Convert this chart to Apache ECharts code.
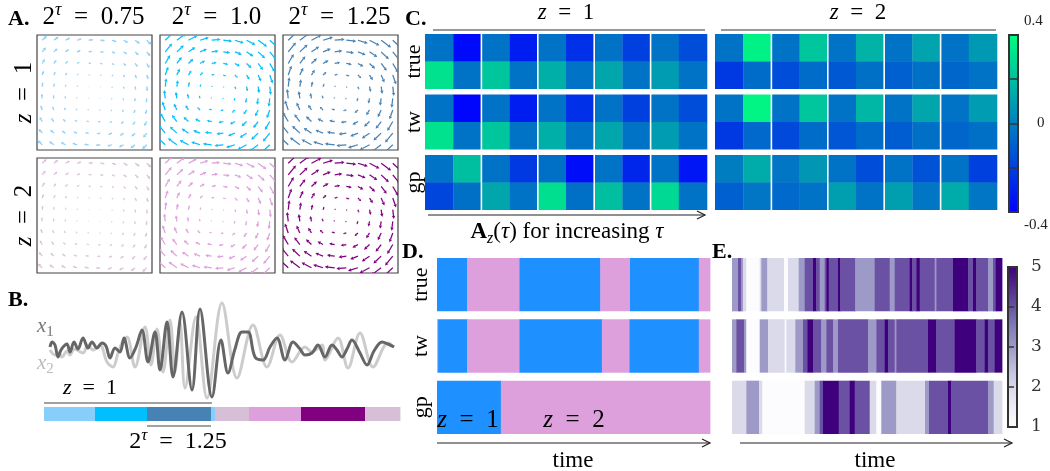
<!DOCTYPE html>
<html><head><meta charset="utf-8">
<script src="https://cdn.jsdelivr.net/npm/echarts@6/dist/echarts.min.js"></script>
<style>html,body{margin:0;padding:0;background:#fff}#c{width:1050px;height:471px}</style>
</head><body><div id="c"></div>
<script>
// ================= DATA =================
// Panel A: quiver grids
const quiverTicks = [-1, -0.7778, -0.5556, -0.3333, -0.1111, 0.1111, 0.3333, 0.5556, 0.7778, 1];
const quiverTauLabels = ['0.75', '1.0', '1.25'];
const quiverZLabels = ['1', '2'];
const quiverColors = ['#87CEFA', '#00BFFF', '#4682B4', '#D8BFD8', '#DDA0DD', '#800080'];
// linear dynamics matrix per panel (row z=1 then z=2; columns 2^tau = 0.75, 1.0, 1.25)
const quiverMatrices = [
  [[0.0, 0.09], [-0.085, 0.0]],
  [[0.0, 0.17], [-0.16, 0.0]],
  [[0.0, 0.19], [-0.18, 0.0]],
  [[0.0, 0.085], [-0.08, 0.0]],
  [[0.0, 0.16], [-0.15, 0.0]],
  [[0.0, 0.19], [-0.18, 0.0]]
];

// Panel B: time series [t, value]
const x1Series = [[0,0],[2,5],[5,2],[8,-10],[11,-3],[14,1],[17,3],[20,-5],[24,5],[28,-2],[33,9],[38,-1],[42,5],[47,-1],[52,4],[56,1],[60,-11],[65,-1],[70,-5],[74,9],[80,-11],[86,0],[92,17],[98,-15],[105,15],[110,-23],[117,25],[123,-30],[132,35],[142,-43],[150,38],[162,-50],[171,7],[178,-26],[185,-2],[192,15],[198,15],[205,-10],[213,-13],[220,0],[227,9],[235,-13],[243,5],[250,-2],[255,-8],[262,-6],[268,2],[275,-10],[282,2],[287,-3],[292,-10],[297,-2],[302,7],[310,-6],[317,-18],[324,-4],[332,5],[338,3],[344,0]];
const x2Series = [[0,-3],[5,-8],[9,-6],[12,-10],[17,-4],[20,-8],[24,-2],[27,-3],[33,-6],[38,2],[43,-3],[50,2],[57,-15],[63,-20],[68,-6],[72,4],[77,10],[85,-20],[95,20],[101,-18],[107,18],[113,-25],[120,27],[125,-25],[130,25],[135,-41],[146,30],[157,-51],[172,44],[187,-31],[203,22],[217,-20],[230,12],[242,-15],[255,0],[262,-5],[272,2],[275,-13],[288,9],[298,-21],[310,14],[323,-20],[338,4],[344,0]];
const bSeriesNames = ['1', '2'];
// [start, end, colour index]
const bSegments = [[0,51,0],[51,103,1],[103,167,2],[167,171,0],[171,205,3],[205,257,4],[257,321,5],[321,356,3]];
const bSegmentColors = ['#87CEFA', '#00BFFF', '#4682B4', '#D8BFD8', '#DDA0DD', '#800080'];

// Panel C: A_z(tau) matrices, 2 rows x 10 columns per method
const cRowLabels = ['true', 'tw', 'gp'];
const cZTitles = ['1', '2'];
const cTrueZ1 = [[-0.04,-0.37,-0.04,-0.31,-0.04,-0.25,-0.04,-0.2,-0.04,-0.16],[0.31,-0.04,0.22,-0.04,0.15,-0.04,0.12,-0.04,0.09,-0.04]];
const cTwZ1   = [[-0.04,-0.38,-0.04,-0.31,-0.04,-0.25,-0.04,-0.2,-0.04,-0.16],[0.31,-0.04,0.22,-0.04,0.15,-0.04,0.12,-0.04,0.09,-0.04]];
const cGpZ1   = [[-0.04,0.2,-0.04,-0.22,-0.05,-0.36,-0.04,-0.28,-0.04,-0.33],[-0.18,-0.05,0.12,-0.04,0.3,-0.05,0.2,-0.04,0.28,-0.04]];
const cTrueZ2 = [[-0.04,0.36,-0.04,0.22,-0.04,0.16,-0.04,0.11,-0.04,0.08],[-0.22,-0.06,-0.16,-0.06,-0.12,-0.05,-0.1,-0.05,-0.08,-0.04]];
const cTwZ2   = [[-0.04,0.37,-0.04,0.22,-0.04,0.17,-0.04,0.12,-0.04,0.09],[-0.22,-0.07,-0.17,-0.06,-0.13,-0.06,-0.11,-0.05,-0.08,-0.05]];
const cGpZ2   = [[-0.01,0.14,-0.03,0.07,-0.04,-0.16,-0.04,-0.14,-0.04,-0.2],[-0.1,-0.03,-0.07,-0.04,0.1,-0.04,0.1,-0.03,0.14,-0.03]];
const cScale = [-0.4, 0.4];
const cTickLabels = ['-0.4', '0', '0.4'];

// Panel D: segmentation [start, end, z index] (0 -> z=1, 1 -> z=2)
const dTrue = [[0,11,0],[11,30.2,1],[30.2,59.8,0],[59.8,70.7,1],[70.7,95.9,0],[95.9,100,1]];
const dTw   = [[0,0.4,1],[0.4,11,0],[11,30.2,1],[30.2,60.4,0],[60.4,70.5,1],[70.5,95.9,0],[95.9,100,1]];
const dGp   = [[0,23.4,0],[23.4,100,1]];
const dColors = ['#1E90FF', '#DDA0DD'];

// Panel E: warp level [start, end, level 1..5]
const eTrue = [[0,6,3],[6,9.3,4],[9.3,11,3],[11,14.3,2],[14.3,27.7,1],[27.7,29.3,2],[29.3,35.3,3],[35.3,52,2],[52,56,1],[56,66.7,2],[66.7,72.7,3],[72.7,81,4],[81,84.3,5],[84.3,87.7,4],[87.7,92.7,3],[92.7,94.3,4],[94.3,96.7,5],[96.7,106,4],[106,108.3,5],[108.3,123.3,4],[123.3,142.7,3],[142.7,157.7,4],[157.7,162.7,3],[162.7,177.7,4],[177.7,180.3,5],[180.3,184.3,4],[184.3,187.7,5],[187.7,202.7,4],[202.7,204.3,3],[204.3,221,4],[221,236,5],[236,241,4],[241,244.3,5],[244.3,256,4],[256,261,3],[261,263.7,4],[263.7,270,5]];
const eTw = [[0,4.3,3],[4.3,12,4],[12,14.3,3],[14.3,27.7,1],[27.7,36,3],[36,52.7,2],[52.7,54.3,1],[54.3,63.3,2],[63.3,71,3],[71,75.3,4],[75.3,81,5],[81,89.3,4],[89.3,94.3,3],[94.3,101,4],[101,106,3],[106,136,4],[136,144.3,3],[144.3,152.7,4],[152.7,156,5],[156,162.7,4],[162.7,164.3,3],[164.3,196,4],[196,204.3,5],[204.3,222.7,4],[222.7,244.3,5],[244.3,252.7,4],[252.7,256,5],[256,262.7,4],[262.7,270,5]];
const eGp = [[0,14.3,2],[14.3,27,3],[27,30.3,2],[30.3,72.7,1],[72.7,82.7,2],[82.7,87.7,3],[87.7,91,4],[91,106.7,5],[106.7,117.7,4],[117.7,122.7,5],[122.7,137.7,4],[137.7,144.3,2],[144.3,149.3,1],[149.3,164.3,3],[164.3,193,2],[193,197,3],[197,216,4],[216,219.3,5],[219.3,256,4],[256,261.7,3],[261.7,270,2]];
const eLevels = [1, 2, 3, 4, 5];
const purples = ['#fcfbfd','#efedf5','#dadaeb','#bcbddc','#9e9ac8','#807dba','#6a51a3','#54278f','#3f007d'];
const winter = ['#0000ff', '#00ff80'];

// ================= CHART =================
const SERIF = '"Liberation Serif","DejaVu Serif",serif';
const DJS = '"DejaVu Serif",serif';
const chart = echarts.init(document.getElementById('c'), null, {renderer: 'canvas'});
const grids = [], xAxes = [], yAxes = [], series = [], graphics = [];
function addGrid(g, xa, ya) {
  grids.push(Object.assign({show: false, containLabel: false, outerBoundsMode: 'none'}, g));
  const i = grids.length - 1;
  xAxes.push(Object.assign({gridIndex: i, type: 'value', show: false}, xa));
  yAxes.push(Object.assign({gridIndex: i, type: 'value', show: false}, ya));
  return i;
}
function rich(size, color) {
  color = color || '#000';
  return {
    n: {fontFamily: SERIF, fontSize: size, lineHeight: size + 6, fill: color},
    it: {fontFamily: SERIF, fontStyle: 'italic', fontSize: size, lineHeight: size + 6, fill: color},
    b: {fontFamily: SERIF, fontWeight: 'bold', fontSize: size, lineHeight: size + 6, fill: color},
    sup: {fontFamily: SERIF, fontStyle: 'italic', fontSize: Math.round(size * 0.7), lineHeight: Math.round(size * 0.45), verticalAlign: 'top', fill: color},
    sub: {fontFamily: SERIF, fontStyle: 'italic', fontSize: Math.round(size * 0.7), lineHeight: Math.round(size * 0.6), verticalAlign: 'bottom', fill: color},
    subn: {fontFamily: SERIF, fontSize: Math.round(size * 0.7), lineHeight: Math.round(size * 0.6), verticalAlign: 'bottom', fill: color}
  };
}
function text(x, y, t, size, opts) {
  opts = opts || {};
  graphics.push({type: 'text', x: x, y: y, rotation: opts.rot || 0, z: 100,
    style: {text: t, align: opts.align || 'center', verticalAlign: 'middle', rich: rich(size, opts.color), fill: opts.color || '#000',
      font: (opts.bold ? 'bold ' : '') + size + 'px ' + SERIF}});
}
function hline(x1, x2, y, color, w) {
  graphics.push({type: 'line', z: 100, shape: {x1: x1, y1: y, x2: x2, y2: y}, style: {stroke: color || '#333', lineWidth: w || 1}});
}
function arrow(x1, x2, y) {
  hline(x1, x2, y, '#222', 1.2);
  graphics.push({type: 'polyline', z: 100, shape: {points: [[x2 - 8, y - 4], [x2, y], [x2 - 8, y + 4]]}, style: {stroke: '#222', lineWidth: 1.2, fill: null}});
}

// ---- Panel A
const qLefts = [37, 160, 283], qTops = [35, 158], qSize = 115;
const quiverData = [];
quiverTicks.forEach(function (tx) { quiverTicks.forEach(function (ty) { quiverData.push([tx, ty]); }); });
function quiverRender(M, color) {
  return function (params, api) {
    const x = api.value(0), y = api.value(1);
    const u = M[0][0] * x + M[0][1] * y, v = M[1][0] * x + M[1][1] * y;
    const p0 = api.coord([x, y]), p1 = api.coord([x + u, y + v]);
    const dx = p1[0] - p0[0], dy = p1[1] - p0[1];
    const L = Math.sqrt(dx * dx + dy * dy);
    if (L < 0.4) return;
    const ux = dx / L, uy = dy / L;
    const hl = Math.min(3.2, L * 0.5), hw = Math.min(1.7, L * 0.28);
    const bx = p1[0] - ux * hl, by = p1[1] - uy * hl;
    return {type: 'group', children: [
      {type: 'line', shape: {x1: p0[0], y1: p0[1], x2: bx, y2: by}, style: {stroke: color, lineWidth: 1.25}},
      {type: 'polygon', shape: {points: [[p1[0], p1[1]], [bx - uy * hw, by + ux * hw], [bx + uy * hw, by - ux * hw]]}, style: {fill: color}}
    ]};
  };
}
for (let r = 0; r < 2; r++) {
  for (let c = 0; c < 3; c++) {
    const k = r * 3 + c;
    const gi = addGrid({show: true, left: qLefts[c], top: qTops[r], width: qSize, height: qSize, borderColor: '#444', borderWidth: 1.2, backgroundColor: 'transparent'},
      {min: -1.1, max: 1.1}, {min: -1.1, max: 1.1});
    series.push({type: 'custom', coordinateSystem: 'cartesian2d', xAxisIndex: gi, yAxisIndex: gi, clip: true, silent: true,
      renderItem: quiverRender(quiverMatrices[k], quiverColors[k]), data: quiverData});
  }
}
text(8, 19, 'A.', 22, {align: 'left', bold: true});
for (let c = 0; c < 3; c++) text(qLefts[c] + qSize / 2 - 1, 17, '{n|2}{sup|τ}{n|\u2002=\u2002' + quiverTauLabels[c] + '}', 25);
for (let r = 0; r < 2; r++) text(24, qTops[r] + qSize / 2, '{it|z}{n|\u2002=\u2002' + quiverZLabels[r] + '}', 25, {rot: Math.PI / 2});

// ---- Panel B
const gB = addGrid({left: 50, top: 292, width: 345, height: 110}, {min: 0, max: 345}, {min: -55, max: 55});
series.push({type: 'line', xAxisIndex: gB, yAxisIndex: gB, data: x2Series, showSymbol: false, smooth: 0.35, lineStyle: {color: '#cccccc', width: 3}, silent: true});
series.push({type: 'line', xAxisIndex: gB, yAxisIndex: gB, data: x1Series, showSymbol: false, smooth: 0.35, lineStyle: {color: '#666666', width: 3}, silent: true});
const gBar = addGrid({left: 44, top: 407, width: 356, height: 14}, {min: 0, max: 356}, {min: 0, max: 1});
series.push({type: 'custom', coordinateSystem: 'cartesian2d', xAxisIndex: gBar, yAxisIndex: gBar, silent: true, data: bSegments,
  renderItem: function (params, api) {
    const p0 = api.coord([api.value(0), 1]), p1 = api.coord([api.value(1), 0]);
    return {type: 'rect', shape: {x: p0[0], y: p0[1], width: p1[0] - p0[0] + 0.4, height: p1[1] - p0[1]}, style: {fill: bSegmentColors[api.value(2)]}};
  }});
text(8, 300, 'B.', 22, {align: 'left', bold: true});
text(37, 326, '{it|x}{subn|' + bSeriesNames[0] + '}', 21, {align: 'left', color: '#777'});
text(37, 363, '{it|x}{subn|' + bSeriesNames[1] + '}', 21, {align: 'left', color: '#bbb'});
text(90, 388, '{it|z}{n|\u2002=\u20021}', 22);
hline(44, 212, 403, '#444', 1);
hline(147, 211, 426, '#444', 1);
text(178, 442, '{n|2}{sup|τ}{n|\u2002=\u20021.25}', 24);

// ---- Panel C
function cellData(blocks) {
  const out = [];
  blocks.forEach(function (blk, g) {
    blk.forEach(function (row, s) { row.forEach(function (v, col) { out.push([col, g * 2 + s, v]); }); });
  });
  return out;
}
function cellRender(params, api) {
  const col = api.value(0), row = api.value(1);
  const y0 = Math.floor(row / 2) * 2.2 + (row % 2);
  const p0 = api.coord([col, y0]), p1 = api.coord([col + 1, y0 + 1]);
  let xa = p0[0], xb = p1[0] + 0.3;
  if (col % 2 === 0 && col > 0) xa += 0.8;
  if (col % 2 === 1 && col < 9) xb -= 1.1;
  return {type: 'rect', shape: {x: xa, y: p0[1], width: xb - xa, height: p1[1] - p0[1] + (row % 2 === 0 ? 0.4 : 0)}, style: {fill: api.visual('color')}};
}
const cLefts = [425, 715];
const cBlocks = [[cTrueZ1, cTwZ1, cGpZ1], [cTrueZ2, cTwZ2, cGpZ2]];
const cSeriesIdx = [];
for (let z = 0; z < 2; z++) {
  const gi = addGrid({left: cLefts[z], top: 34, width: 282, height: 176}, {min: 0, max: 10}, {min: 0, max: 6.4, inverse: true});
  cSeriesIdx.push(series.length);
  series.push({type: 'custom', coordinateSystem: 'cartesian2d', xAxisIndex: gi, yAxisIndex: gi, silent: true,
    data: cellData(cBlocks[z]), renderItem: cellRender});
}
// colourbar C
const gCb = addGrid({show: true, left: 1009, top: 35, width: 9, height: 177, borderColor: '#333', borderWidth: 2,
  backgroundColor: {type: 'linear', x: 0, y: 0, x2: 0, y2: 1, colorStops: [{offset: 0, color: winter[1]}, {offset: 1, color: winter[0]}]}},
  {min: 0, max: 1},
  {show: true, position: 'right', min: cScale[0], max: cScale[1], interval: 0.2,
    axisLine: {show: false}, splitLine: {show: false},
    axisTick: {show: true, length: 9, lineStyle: {color: '#333', width: 1.5}},
    axisLabel: {show: true, margin: 6, color: '#222', fontFamily: SERIF, fontSize: 15,
      formatter: function (v) {
        if (Math.abs(v - cScale[1]) < 1e-9) return '{top|' + cTickLabels[2] + '}';
        if (Math.abs(v - cScale[0]) < 1e-9) return '{bot|' + cTickLabels[0] + '}';
        if (Math.abs(v) < 1e-9) return '{mid|' + cTickLabels[1] + '}';
        return '';
      },
      rich: {top: {fontFamily: SERIF, fontSize: 15, color: '#222', padding: [0, 0, 27, 0]},
        bot: {fontFamily: SERIF, fontSize: 15, color: '#222', padding: [27, 0, 0, 0]},
        mid: {fontFamily: SERIF, fontSize: 15, color: '#222', padding: [0, 0, 0, 13]}}}});
text(405, 19, 'C.', 22, {align: 'left', bold: true});
text(566, 13, '{it|z}{n|\u2002=\u2002' + cZTitles[0] + '}', 23);
text(858, 13, '{it|z}{n|\u2002=\u2002' + cZTitles[1] + '}', 23);
hline(433, 705, 30, '#333', 1.2);
hline(721, 996, 30, '#333', 1.2);
for (let g = 0; g < 3; g++) text(414, 34 + (g * 2.2 + 1) * 27.5, '{n|' + cRowLabels[g] + '}', 22, {rot: Math.PI / 2});
arrow(428, 705, 215);
text(567, 232, '{b|A}{sub|z}{n|(}{it|τ}{n|) for increasing }{it|τ}', 23);

// ---- Panel D
function segData(rows) {
  const out = [];
  rows.forEach(function (row, r) { row.forEach(function (s) { out.push([s[0], s[1], r, s[2]]); }); });
  return out;
}
function segRender(colorFn) {
  return function (params, api) {
    const r = api.value(2);
    const p0 = api.coord([api.value(0), r * 1.15]), p1 = api.coord([api.value(1), r * 1.15 + 1]);
    return {type: 'rect', shape: {x: p0[0], y: p0[1], width: p1[0] - p0[0] + 0.4, height: p1[1] - p0[1]}, style: {fill: colorFn(api)}};
  };
}
const gD = addGrid({left: 437, top: 258, width: 273, height: 176}, {min: 0, max: 100}, {min: 0, max: 3.3, inverse: true});
series.push({type: 'custom', coordinateSystem: 'cartesian2d', xAxisIndex: gD, yAxisIndex: gD, silent: true,
  data: segData([dTrue, dTw, dGp]), renderItem: segRender(function (api) { return dColors[api.value(3)]; })});
text(402, 252, 'D.', 22, {align: 'left', bold: true});
for (let g = 0; g < 3; g++) text(421, 258 + (g * 1.15 + 0.5) * 53.33, '{n|' + cRowLabels[g] + '}', 22, {rot: Math.PI / 2});
text(468, 420, '{it|z}{n|\u2002=\u20021}', 25);
text(574, 420, '{it|z}{n|\u2002=\u20022}', 25);
arrow(437, 710, 443);
text(573, 461, '{n|time}', 23);

// ---- Panel E
const gE = addGrid({left: 732, top: 258, width: 270, height: 176}, {min: 0, max: 270}, {min: 0, max: 3.3, inverse: true});
const eSeriesIdx = series.length;
series.push({type: 'custom', coordinateSystem: 'cartesian2d', xAxisIndex: gE, yAxisIndex: gE, silent: true,
  encode: {x: [0, 1], y: 2},
  data: segData([eTrue, eTw, eGp]), renderItem: segRender(function (api) { return api.visual('color'); })});
const gEcb = addGrid({show: true, left: 1008, top: 267, width: 9, height: 160, borderColor: '#333', borderWidth: 2,
  backgroundColor: {type: 'linear', x: 0, y: 0, x2: 0, y2: 1, colorStops: purples.slice().reverse().map(function (c, i) { return {offset: i / (purples.length - 1), color: c}; })}},
  {min: 0, max: 1},
  {show: true, position: 'right', min: eLevels[0], max: eLevels[eLevels.length - 1], interval: 1,
    axisLine: {show: false}, splitLine: {show: false},
    axisTick: {show: true, length: 6, lineStyle: {color: '#333', width: 1.5}},
    axisLabel: {show: true, margin: 14, color: '#333', fontFamily: DJS, fontSize: 17}});
text(712, 252, 'E.', 22, {align: 'left', bold: true});
arrow(740, 1012, 443);
text(875, 461, '{n|time}', 23);

chart.setOption({
  animation: false,
  backgroundColor: '#fff',
  grid: grids, xAxis: xAxes, yAxis: yAxes, series: series,
  visualMap: [
    {type: 'continuous', show: false, min: cScale[0], max: cScale[1], dimension: 2, seriesIndex: cSeriesIdx, inRange: {color: winter}},
    {type: 'continuous', show: false, min: eLevels[0], max: eLevels[eLevels.length - 1], dimension: 3, seriesIndex: [eSeriesIdx], inRange: {color: purples}}
  ],
  graphic: {elements: graphics}
});
</script></body></html>
